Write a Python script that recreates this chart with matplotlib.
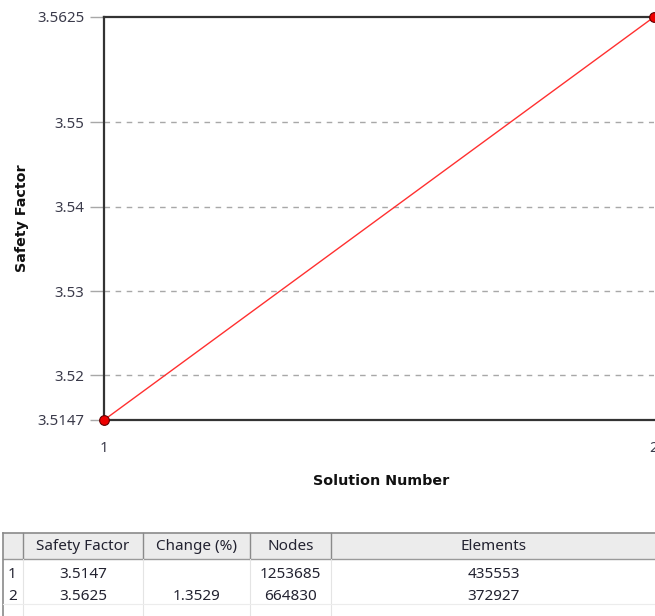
import matplotlib
matplotlib.use("Agg")
import matplotlib.pyplot as plt
from matplotlib.lines import Line2D
from matplotlib.patches import Rectangle

plt.rcParams['font.family'] = ['Noto Sans', 'DejaVu Sans']

# Convergence history
solution = [1, 2]
safety_factor = [3.5147, 3.5625]
change_pct = ["", "1.3529"]
nodes = ["1253685", "664830"]
elements = ["435553", "372927"]
ytick_values = [3.5147, 3.52, 3.53, 3.54, 3.55, 3.5625]
ytick_labels = ["3.5147", "3.52", "3.53", "3.54", "3.55", "3.5625"]
grid_values = [3.52, 3.53, 3.54, 3.55]
table_headers = ["", "Safety Factor", "Change (%)", "Nodes", "Elements"]

W, H = 655, 616
fig = plt.figure(figsize=(W / 100, H / 100), dpi=100)


def fx(px):
    return px / W


def fy(py):
    return 1 - py / H


ax = fig.add_axes([fx(104), fy(420), fx(654) - fx(104), fy(17) - fy(420)])
ax.set_xlim(solution[0], solution[-1])
ax.set_ylim(safety_factor[0], safety_factor[-1])

for g in grid_values:
    ax.axhline(g, color="#a8a8a8", lw=1.0, ls=(0, (4, 4)), zorder=1)

ax.plot(solution, safety_factor, color="#ff3030", lw=1.0, zorder=3)
ax.plot(solution, safety_factor, ls="none", marker="o", ms=7,
        mfc="#ee0000", mec="#600000", mew=0.8, clip_on=False, zorder=4)

for side in ["top", "left", "bottom"]:
    ax.spines[side].set_color("#333333")
    ax.spines[side].set_linewidth(1.6)
ax.spines["right"].set_visible(False)

ax.set_yticks(ytick_values)
ax.set_yticklabels(ytick_labels)
ax.set_xticks(solution)
ax.set_xticklabels([str(s) for s in solution])
ax.tick_params(axis="y", length=10, width=1, color="#a8a8a8",
               labelsize=10.8, labelcolor="#3a3a4a", pad=4)
ax.tick_params(axis="x", length=0, labelsize=10.8, labelcolor="#3a3a4a", pad=15)
for lbl in ax.get_xticklabels():
    lbl.set_x(lbl.get_position()[0])

label_font = dict(family=["DejaVu Sans"], fontweight="bold", fontsize=10.3,
                  color="#111111")
fig.text(fx(22), fy(218), "Safety Factor", rotation=90, ha="center", va="center",
         **label_font)
fig.text(fx(381), fy(481), "Solution Number", ha="center", va="center",
         **label_font)

# Results table drawn in figure pixel space
col_x = [3, 23, 143, 250, 331, 656]
top, head_bot = 533, 559
tr = fig.transFigure


def line(x0, y0, x1, y1, color, lw=1.0):
    fig.add_artist(Line2D([fx(x0), fx(x1)], [fy(y0), fy(y1)], transform=tr,
                          color=color, lw=lw))


fig.add_artist(Rectangle((fx(3), fy(head_bot)), fx(656) - fx(3), fy(top) - fy(head_bot),
                         transform=tr, facecolor="#ececec", edgecolor="none"))
line(3, top, 656, top, "#8a8a8a", 1.2)
line(3, head_bot, 656, head_bot, "#9a9a9a", 1.0)
line(3, top, 3, H, "#8a8a8a", 1.2)
for x in col_x[1:-1]:
    line(x, top, x, head_bot, "#8a8a8a", 1.0)
    line(x, head_bot, x, H, "#e4e4e4", 0.8)
line(3, 604, 656, 604, "#ececec", 0.8)

cell_font = dict(fontsize=11, color="#222230")
for i, h in enumerate(table_headers):
    if h:
        cx = (col_x[i] + col_x[i + 1]) / 2
        fig.text(fx(cx), fy(547), h, ha="center", va="center", **cell_font)

rows = [[str(n) for n in solution],
        [f"{v:.4f}" for v in safety_factor], change_pct, nodes, elements]
row_centers = [575, 596]
for r in range(len(solution)):
    cy = row_centers[r]
    fig.text(fx(8), fy(cy), rows[0][r], ha="left", va="center", **cell_font)
    for c in range(1, 5):
        cx = (col_x[c] + col_x[c + 1]) / 2
        fig.text(fx(cx), fy(cy), rows[c][r], ha="center", va="center", **cell_font)

fig.savefig("out.png", dpi=100, facecolor="white")
